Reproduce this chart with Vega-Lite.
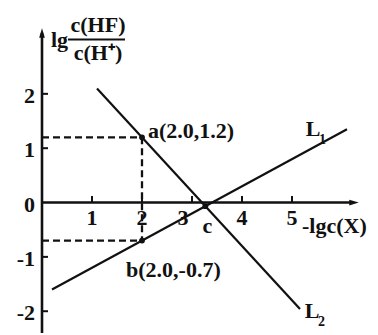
{
  "$schema": "https://vega.github.io/schema/vega-lite/v6.json",
  "width": 378,
  "height": 335,
  "autosize": {"type": "fit", "contains": "padding"},
  "padding": 0,
  "background": "white",
  "config": {"view": {"stroke": null}, "text": {"font": "Liberation Serif", "fontSize": 22, "fontWeight": "bold", "color": "#111"}},
  "datasets": {
    "lines": [
      {"id": "L1", "x": 0.2, "y": -1.6},
      {"id": "L1", "x": 6.1, "y": 1.35},
      {"id": "L2", "x": 1.1, "y": 2.1},
      {"id": "L2", "x": 5.16, "y": -1.96}
    ],
    "axes": [
      {"x": 0, "y": -2.4, "x2": 0, "y2": 3.12},
      {"x": 0, "y": 0, "x2": 6.2, "y2": 0}
    ],
    "guides": [
      {"x": 0, "y": 1.2, "x2": 2, "y2": 1.2},
      {"x": 2, "y": 1.2, "x2": 2, "y2": -0.7},
      {"x": 0, "y": -0.7, "x2": 2, "y2": -0.7}
    ],
    "xticks": [{"x": 1, "y": 0}, {"x": 2, "y": 0}, {"x": 3, "y": 0}, {"x": 4, "y": 0}, {"x": 5, "y": 0}],
    "yticks": [{"x": 0, "y": 2}, {"x": 0, "y": 1}, {"x": 0, "y": -1}, {"x": 0, "y": -2}],
    "ylabels": [
      {"x": 0, "y": 2, "t": "2"},
      {"x": 0, "y": 1, "t": "1"},
      {"x": 0, "y": 0, "t": "0"},
      {"x": 0, "y": -1, "t": "-1"},
      {"x": 0, "y": -2, "t": "-2"}
    ],
    "xlabels": [
      {"x": 1, "y": 0, "t": "1"},
      {"x": 2, "y": 0, "t": "2"},
      {"x": 4, "y": 0, "t": "4"},
      {"x": 5, "y": 0, "t": "5"}
    ],
    "xlabel3": [{"x": 3, "y": 0, "t": "3"}],
    "points": [
      {"id": "a", "x": 2.0, "y": 1.2},
      {"id": "b", "x": 2.0, "y": -0.7},
      {"id": "c", "x": 3.267, "y": -0.067}
    ]
  },
  "encoding": {
    "x": {"field": "x", "type": "quantitative", "scale": {"domain": [-0.84, 6.72], "nice": false, "zero": false}, "axis": null},
    "y": {"field": "y", "type": "quantitative", "scale": {"domain": [-2.364, 3.727], "nice": false, "zero": false}, "axis": null}
  },
  "layer": [
    {
      "data": {"name": "guides"},
      "mark": {"type": "rule", "color": "#111", "strokeWidth": 2.3, "strokeDash": [7, 4]},
      "encoding": {"x2": {"field": "x2"}, "y2": {"field": "y2"}}
    },
    {
      "data": {"name": "axes"},
      "mark": {"type": "rule", "color": "#111", "strokeWidth": 2.6},
      "encoding": {"x2": {"field": "x2"}, "y2": {"field": "y2"}}
    },
    {
      "data": {"name": "xticks"},
      "mark": {"type": "rule", "color": "#111", "strokeWidth": 2},
      "encoding": {"y2": {"datum": 0.12}}
    },
    {
      "data": {"name": "yticks"},
      "mark": {"type": "rule", "color": "#111", "strokeWidth": 2},
      "encoding": {"x2": {"datum": 0.12}}
    },
    {
      "data": {"values": [{"x": 0, "y": 3.12}]},
      "mark": {"type": "point", "shape": "M0,-1L0.6,1L-0.6,1Z", "size": 90, "filled": true, "color": "#111", "opacity": 1},
      "encoding": {}
    },
    {
      "data": {"values": [{"x": 6.24, "y": 0}]},
      "mark": {"type": "point", "shape": "M1,0L-1,0.6L-1,-0.6Z", "size": 90, "filled": true, "color": "#111", "opacity": 1},
      "encoding": {}
    },
    {
      "data": {"name": "lines"},
      "mark": {"type": "line", "color": "#111", "strokeWidth": 2.2},
      "encoding": {"detail": {"field": "id"}}
    },
    {
      "data": {"name": "points"},
      "mark": {"type": "point", "shape": "circle", "size": 34, "filled": true, "color": "#111", "opacity": 1},
      "encoding": {}
    },
    {
      "data": {"name": "ylabels"},
      "mark": {"type": "text", "align": "right", "baseline": "middle", "dx": -7, "dy": 2},
      "encoding": {"text": {"field": "t"}}
    },
    {
      "data": {"name": "xlabels"},
      "mark": {"type": "text", "align": "center", "baseline": "middle", "dy": 15},
      "encoding": {"text": {"field": "t"}}
    },
    {
      "data": {"name": "xlabel3"},
      "mark": {"type": "text", "align": "center", "baseline": "middle", "dy": 15, "dx": -9},
      "encoding": {"text": {"field": "t"}}
    },
    {
      "data": {"values": [{"x": 2.0, "y": 1.2, "t": "a(2.0,1.2)"}]},
      "mark": {"type": "text", "align": "left", "baseline": "middle", "dx": 6, "dy": -6},
      "encoding": {"text": {"field": "t"}}
    },
    {
      "data": {"values": [{"x": 2.0, "y": -0.7, "t": "b(2.0,-0.7)"}]},
      "mark": {"type": "text", "align": "left", "baseline": "middle", "dx": -16, "dy": 29},
      "encoding": {"text": {"field": "t"}}
    },
    {
      "data": {"values": [{"x": 3.267, "y": -0.067, "t": "c"}]},
      "mark": {"type": "text", "align": "center", "baseline": "middle", "dy": 20, "dx": 2},
      "encoding": {"text": {"field": "t"}}
    },
    {
      "data": {"values": [{"x": 5.2, "y": 0, "t": "-lgc(X)"}]},
      "mark": {"type": "text", "align": "left", "baseline": "middle", "dy": 23},
      "encoding": {"text": {"field": "t"}}
    },
    {
      "data": {"values": [{"x": 5.42, "y": 1.36, "t": "L"}, {"x": 5.4, "y": -2.0, "t": "L"}]},
      "mark": {"type": "text", "align": "center", "baseline": "middle"},
      "encoding": {"text": {"field": "t"}}
    },
    {
      "data": {"values": [{"x": 5.42, "y": 1.36, "t": "1"}, {"x": 5.4, "y": -2.0, "t": "2"}]},
      "mark": {"type": "text", "align": "left", "baseline": "middle", "fontSize": 14, "dx": 6, "dy": 11},
      "encoding": {"text": {"field": "t"}}
    },
    {
      "data": {"values": [{"x": 0.18, "y": 3.0, "t": "lg"}]},
      "mark": {"type": "text", "align": "left", "baseline": "middle"},
      "encoding": {"text": {"field": "t"}}
    },
    {
      "data": {"values": [{"x": 1.12, "y": 3.27, "t": "c(HF)"}, {"x": 1.12, "y": 2.745, "t": "c(H⁺)"}]},
      "mark": {"type": "text", "align": "center", "baseline": "middle"},
      "encoding": {"text": {"field": "t"}}
    },
    {
      "data": {"values": [{"x": 0.52, "y": 3.0, "x2": 1.66, "y2": 3.0}]},
      "mark": {"type": "rule", "color": "#111", "strokeWidth": 2},
      "encoding": {"x2": {"field": "x2"}, "y2": {"field": "y2"}}
    }
  ]
}
